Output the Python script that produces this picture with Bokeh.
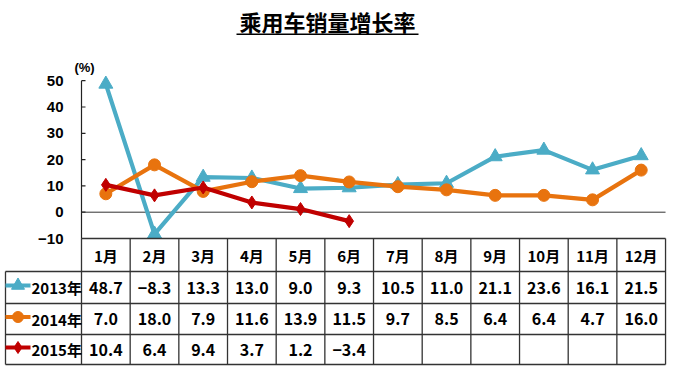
import numpy as np
from bokeh.plotting import figure
from bokeh.models import Range1d, Label, BoxAnnotation, ColumnDataSource
from bokeh.core.properties import value
from bokeh.embed import file_html
from bokeh.resources import INLINE

months = ["1月", "2月", "3月", "4月", "5月", "6月", "7月", "8月", "9月", "10月", "11月", "12月"]
years = ["2013年", "2014年", "2015年"]
s2013 = [48.7, -8.3, 13.3, 13.0, 9.0, 9.3, 10.5, 11.0, 21.1, 23.6, 16.1, 21.5]
s2014 = [7.0, 18.0, 7.9, 11.6, 13.9, 11.5, 9.7, 8.5, 6.4, 6.4, 4.7, 16.0]
s2015 = [10.4, 6.4, 9.4, 3.7, 1.2, -3.4]
yticks = [-10, 0, 10, 20, 30, 40, 50]
title_text = "乘用车销量增长率"

colors = ["#4BACC6", "#E8730E", "#C00000"]
markers = ["triangle", "circle", "diamond"]
msizes = [14, 12, 13]
series = [s2013, s2014, s2015]

CJK = "Noto Sans CJK SC"
W, H = 673, 370
PXU = 2.63          # pixels per y unit
CW = 48.67          # pixels per column
LEFT = 81           # pixels from canvas left to y axis
BASE = 238          # pixels from canvas top to the -10 line
Y_TOP = -10 + BASE / PXU
Y_BOT = -10 - (H - BASE) / PXU

p = figure(width=W, height=H, output_backend="svg", toolbar_location=None,
           x_range=Range1d(-LEFT / CW, (W - LEFT) / CW), y_range=Range1d(Y_BOT, Y_TOP),
           min_border_left=0, min_border_right=0, min_border_top=0, min_border_bottom=0,
           x_axis_type=None, y_axis_type=None)
p.outline_line_color = None
p.grid.visible = False
p.background_fill_color = "white"
p.border_fill_color = "white"

ax_c = "#222222"
ymin, ymax = min(yticks), max(yticks)
p.segment(x0=[0], y0=[ymin], x1=[0], y1=[ymax], line_color=ax_c, line_width=1.2)
p.segment(x0=[0] * len(yticks), y0=yticks, x1=[4 / CW] * len(yticks), y1=yticks,
          line_color=ax_c, line_width=1.2)
p.text(x=[-18 / CW] * len(yticks), y=yticks,
       text=[str(t) if t >= 0 else "\u2212" + str(-t) for t in yticks],
       text_align="right", text_baseline="middle", text_font=value("Liberation Sans"),
       text_font_style="bold", text_font_size="15px", text_color="black")
p.segment(x0=[0], y0=[0], x1=[12], y1=[0], line_color="#333333", line_width=1)

for s, c, m, ms in zip(series, colors, markers, msizes):
    xs = np.arange(len(s)) + 0.5
    p.line(xs, s, line_color=c, line_width=4.2)
    p.scatter(xs, s, marker=m, size=ms, fill_color=c, line_color=c)

# title
p.add_layout(Label(x=(327 - LEFT) / CW, y=-10 + (BASE - 20) / PXU, text=title_text, text_align="center",
                   text_baseline="middle", text_font=CJK, text_font_style="bold",
                   text_font_size="22px", text_color="black"))
p.add_layout(BoxAnnotation(left=(236 - LEFT) / CW, right=(418 - LEFT) / CW,
                           bottom=-10 + (BASE - 34.5) / PXU, top=-10 + (BASE - 33) / PXU,
                           fill_color="black", fill_alpha=1, line_color=None))
p.add_layout(Label(x=3 / CW, y=-10 + (BASE - 67) / PXU, text="(%)", text_align="center",
                   text_baseline="middle", text_font="Liberation Sans", text_font_style="bold",
                   text_font_size="13px", text_color="black"))

# ---------- table ----------
x0 = (5 - LEFT) / CW
row_px = [0, 33, 65, 96, 126]
rows = [ymin - r / PXU for r in row_px]
lc = "#333333"
p.segment(x0=[0], y0=[rows[0]], x1=[12], y1=[rows[0]], line_color=lc, line_width=1.3)
for r in rows[1:]:
    p.segment(x0=[x0], y0=[r], x1=[12], y1=[r], line_color=lc, line_width=1.3)
vx = list(range(0, 13))
p.segment(x0=vx, y0=[rows[0]] * 13, x1=vx, y1=[rows[-1]] * 13, line_color=lc, line_width=1.3)
p.segment(x0=[x0], y0=[rows[1]], x1=[x0], y1=[rows[-1]], line_color=lc, line_width=1.3)

centers = [(rows[i] + rows[i + 1]) / 2 for i in range(4)]

hdr = ColumnDataSource(dict(x=np.arange(12) + 0.5, y=[centers[0]] * 12, t=months))
p.text(x="x", y="y", text="t", source=hdr, text_align="center", text_baseline="middle",
       text_font=value(CJK), text_font_style="bold", text_font_size="15px", text_color="black")

for i, s in enumerate(series):
    src = ColumnDataSource(dict(x=np.arange(len(s)) + 0.5, y=[centers[i + 1]] * len(s),
                                t=[("%.1f" % v).replace("-", "\u2212") for v in s]))
    p.text(x="x", y="y", text="t", source=src, text_align="center", text_baseline="middle",
           text_font=value(CJK), text_font_style="bold", text_font_size="16px", text_color="black")
    lx0 = x0
    lx1 = (30 - LEFT) / CW
    ly = centers[i + 1] + 2 / PXU
    p.line([lx0, lx1], [ly, ly], line_color=colors[i], line_width=4)
    p.scatter([(lx0 + lx1) / 2], [ly], marker=markers[i], size=msizes[i] - 1,
              fill_color=colors[i], line_color=colors[i])
    p.text(x=[(31 - LEFT) / CW], y=[centers[i + 1]], text=[years[i]], text_align="left",
           text_baseline="middle", text_font=value(CJK), text_font_style="bold",
           text_font_size="15px", text_color="black")

open("out.html", "w").write(file_html(p, INLINE))
